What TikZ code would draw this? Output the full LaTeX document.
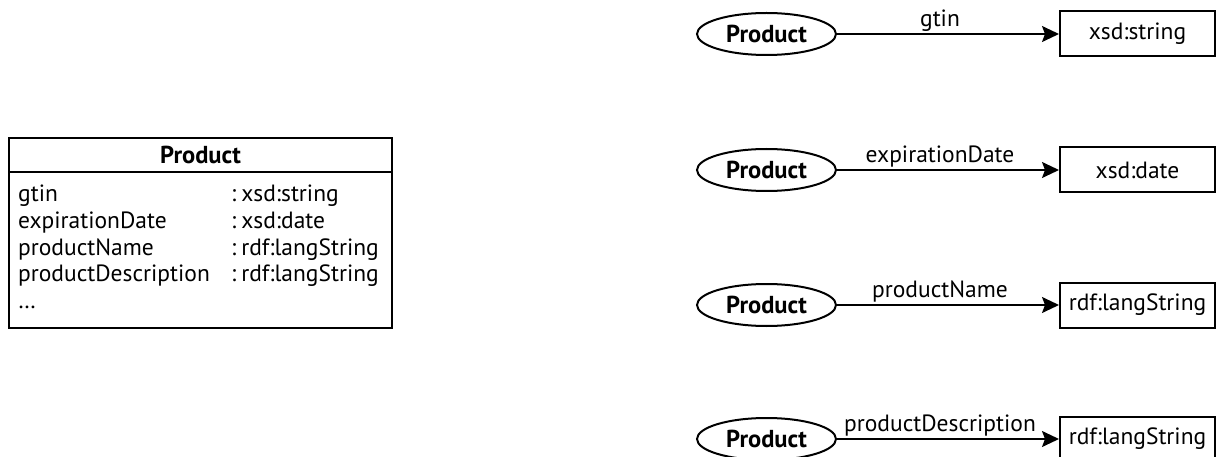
\documentclass[tikz,border=0pt]{standalone}
\usepackage{fontspec}
\setmainfont{PT Sans}
\usetikzlibrary{arrows.meta,positioning,shapes.geometric}

\begin{document}
\begin{tikzpicture}[x=1pt,y=-1pt,
  every node/.style={font=\fontsize{23.5}{28}\selectfont},
  cls/.style={ellipse,draw,line width=2pt,minimum width=139pt,minimum height=42pt,inner sep=0pt,font=\fontsize{24.5}{29}\selectfont\bfseries},
  lit/.style={rectangle,draw,line width=2pt,minimum width=155pt,minimum height=45pt,inner sep=0pt},
  prop/.style={line width=1.8pt,-{Stealth[length=17pt,width=16pt,inset=3pt]}},
  lbl/.style={above,inner sep=2pt,xshift=-8pt}]
\useasboundingbox (0,0) rectangle (1223,457);
% class box with its attributes
\draw[line width=2pt] (9,138) rectangle (392,328);
\draw[line width=2pt] (9,172) -- (392,172);
\node[font=\fontsize{24.5}{29}\selectfont\bfseries] (hd) at (200.5,155) {Product};
\foreach \n/\t [count=\i] in {gtin/xsd:string,expirationDate/xsd:date,productName/rdf:langString,productDescription/rdf:langString}{
  \node[anchor=base west,inner sep=0pt] (a\i) at (18,175.5+26.5*\i) {\n};
  \node[anchor=base west,inner sep=0pt] (t\i) at (231,175.5+26.5*\i) {:\kern5pt\t};
}
\node[anchor=base west,inner sep=0pt] (more) at (18,308) {\ldots};
% one triple per attribute
\foreach \p/\t/\y [count=\i] in {gtin/xsd:string/34,expirationDate/xsd:date/170,productName/rdf:langString/305,productDescription/rdf:langString/439}{
  \node[cls] (c\i) at (766.5,\y) {Product};
  \node[lit] (v\i) at (1137.5,\y) {\t};
  \draw[prop] (c\i) -- node[lbl] {\p} (v\i);
}
\end{tikzpicture}
\end{document}
